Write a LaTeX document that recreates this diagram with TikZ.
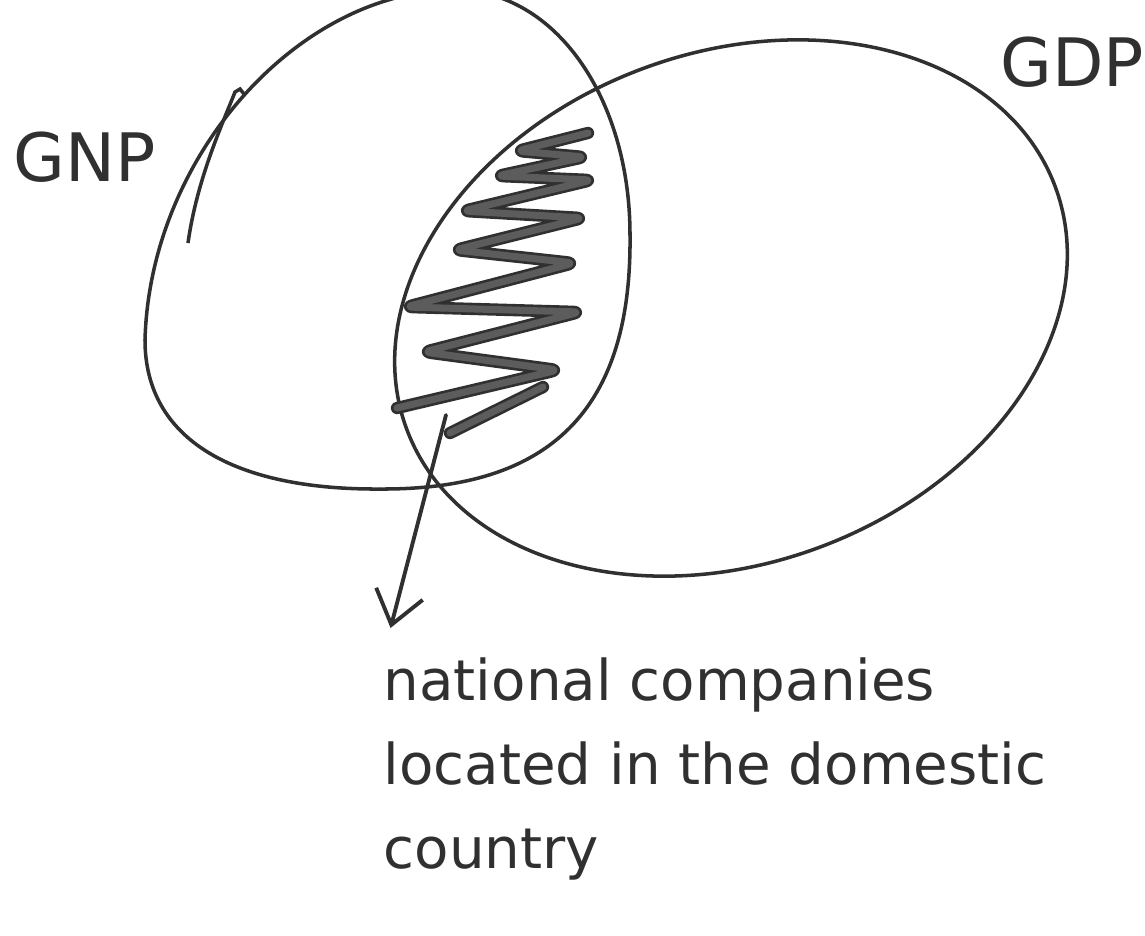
\documentclass[tikz,border=0pt]{standalone}
\usepackage{fontspec}
\setmainfont{DejaVu Sans}
\usepackage{tikz}
\usetikzlibrary{shapes.geometric, arrows.meta}
\definecolor{Ink}{RGB}{48,48,48}
\definecolor{Marker}{RGB}{92,92,92}

\begin{document}
\begin{tikzpicture}[x=0.01cm, y=-0.01cm,
          venn/.style={draw=Ink, line width=1pt},
          setname/.style={font=\fontsize{19}{19}\selectfont, text=Ink},
          note/.style={font=\fontsize{16}{23.9}\selectfont, text=Ink,
                       align=left, inner sep=0pt},
          hatch/.style={draw=Ink, line width=0.75pt, double=Marker,
                        double distance=2pt, line join=round, line cap=round,
                        rounded corners=2pt},
          arr/.style={-{Straight Barb[length=0.32cm, width=0.48cm]},
                      draw=Ink, line width=1.1pt, line cap=round}
        ]
        \useasboundingbox (0,0) rectangle (1145,936);
        \clip (0,0) rectangle (1145,936);

        % GNP set (hand drawn, egg shaped)
        \coordinate (gnpT) at (455,-10);
        \coordinate (gnpR) at (630,235);
        \coordinate (gnpB) at (380,489);
        \coordinate (gnpL) at (145,340);
        \draw[venn] (gnpT) .. controls (555,-10) and (630,98) .. (gnpR)
              .. controls (632,410) and (550,490) .. (gnpB)
              .. controls (235,490) and (145,440) .. (gnpL)
              .. controls (150,155) and (300,-10) .. cycle;
        \draw[venn] (244,94) -- (240,89) -- (235,92)
              .. controls (222,125) and (197,179) .. (188,243);

        % GDP set
        \node[venn, ellipse, minimum width=6.92cm, minimum height=5.1cm,
              inner sep=0pt, outer sep=0pt, rotate=20.6] (gdp) at (731,308) {};

        % set names
        \node[setname] (gnp) at (85,157) {GNP};
        \node[setname] (gdpname) at (1072,62) {GDP};

        % shaded intersection
        \draw[hatch] (588,133) -- (517,151) -- (585,157) -- (497,176)
              -- (592,180) -- (463,211) -- (583,218) -- (455,250)
              -- (574,263) -- (406,307) -- (580,312) -- (424,352)
              -- (558,370) -- (397,408);
        \draw[hatch] (450,433) -- (543,387);

        % pointer to the note
        \node[note, anchor=north west] (note) at (383,657)
              {national companies\\located in the domestic\\country};
        \coordinate (src) at (446,415);
        \draw[arr, shorten >=0.3cm] (src) -- (note.north west);
      \end{tikzpicture}
\end{document}
